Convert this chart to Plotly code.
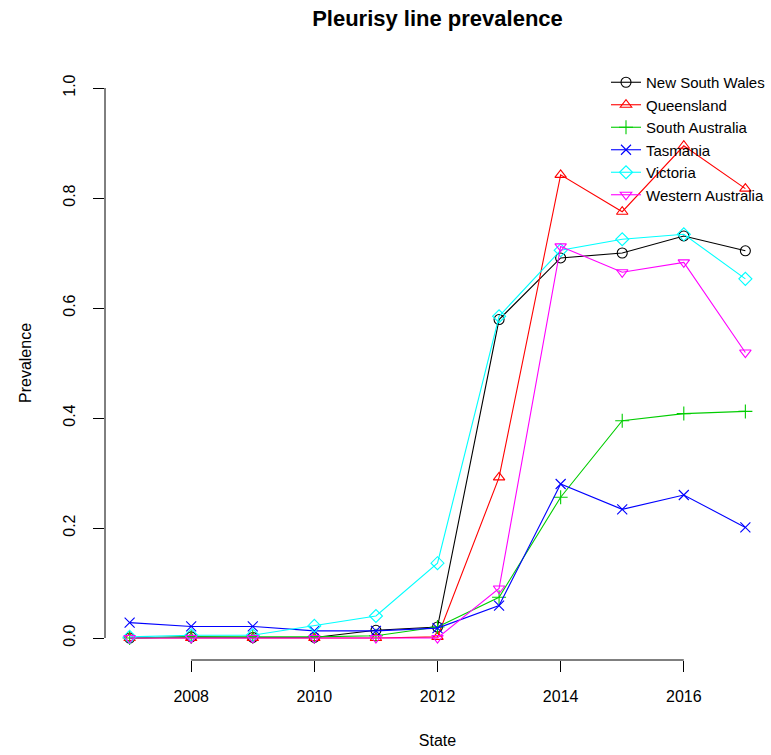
import plotly.graph_objects as go

# Survey years and prevalence of pleurisy lines by state
years = [2007, 2008, 2009, 2010, 2011, 2012, 2013, 2014, 2015, 2016, 2017]

nsw = [0.000, 0.002, 0.001, 0.001, 0.014, 0.020, 0.579, 0.691, 0.700, 0.731, 0.704]
qld = [0.000, 0.000, 0.000, 0.000, 0.000, 0.002, 0.292, 0.842, 0.775, 0.895, 0.817]
sa  = [0.000, 0.002, 0.002, 0.002, 0.004, 0.020, 0.074, 0.256, 0.395, 0.408, 0.412]
tas = [0.028, 0.021, 0.021, 0.013, 0.013, 0.018, 0.059, 0.280, 0.234, 0.260, 0.201]
vic = [0.002, 0.005, 0.005, 0.022, 0.040, 0.136, 0.585, 0.705, 0.725, 0.734, 0.653]
wa  = [0.000, 0.000, 0.000, 0.000, 0.000, 0.000, 0.090, 0.712, 0.665, 0.683, 0.519]

state_names = ["New South Wales", "Queensland", "South Australia",
               "Tasmania", "Victoria", "Western Australia"]
series = [nsw, qld, sa, tas, vic, wa]
colors = ["#000000", "#FF0000", "#00CD00", "#0000FF", "#00FFFF", "#FF00FF"]
symbols = ["circle-open", "triangle-up-open", "cross-thin-open",
           "x-thin-open", "diamond-open", "triangle-down-open"]

x_ticks = [2008, 2010, 2012, 2014, 2016]
y_ticks = [0.0, 0.2, 0.4, 0.6, 0.8, 1.0]
y_tick_text = ["0.0", "0.2", "0.4", "0.6", "0.8", "1.0"]

FONT = "Liberation Sans, Arial, Helvetica, sans-serif"

fig = go.Figure()
for name, vals, col, sym in zip(state_names, series, colors, symbols):
    fig.add_trace(go.Scatter(
        x=years, y=vals, name=name, mode="lines+markers",
        line=dict(color=col, width=1.1),
        marker=dict(symbol=sym, size=10, color=col,
                    line=dict(color=col, width=1.1)),
        cliponaxis=False,
    ))

# Base-graphics style axes: lines only from first to last tick
axis_shapes = [
    dict(type="line", xref="x", yref="paper",
         x0=x_ticks[0], x1=x_ticks[-1], y0=0, y1=0,
         line=dict(color="black", width=1)),
    dict(type="line", xref="paper", yref="y",
         x0=0, x1=0, y0=y_ticks[0], y1=y_ticks[-1],
         line=dict(color="black", width=1)),
]

fig.update_layout(
    width=771, height=755,
    margin=dict(l=105, r=1, t=66, b=95),
    paper_bgcolor="white", plot_bgcolor="white",
    font=dict(family=FONT, size=16, color="black"),
    title=dict(text="<b>Pleurisy line prevalence</b>",
               x=(105 + 770) / 2 / 771, xanchor="center",
               y=1 - 18 / 755, yanchor="middle",
               font=dict(size=22, family=FONT)),
    shapes=axis_shapes,
    showlegend=True,
    legend=dict(x=1.0, xanchor="right", y=1.0, yanchor="top",
                bgcolor="rgba(0,0,0,0)", font=dict(size=15, family=FONT),
                tracegroupgap=0, itemwidth=30),
    xaxis=dict(range=[2006.6, 2017.4], tickvals=x_ticks,
               ticks="outside", ticklen=11, tickwidth=1, tickcolor="black",
               showline=False, showgrid=False, zeroline=False,
               ticklabelstandoff=11,
               title=dict(text="State", standoff=30,
                          font=dict(size=16, family=FONT))),
    yaxis=dict(range=[-0.04, 1.04], tickvals=y_ticks, ticktext=y_tick_text,
               tickangle=-90,
               ticks="outside", ticklen=11, tickwidth=1, tickcolor="black",
               showline=False, showgrid=False, zeroline=False,
               ticklabelstandoff=12,
               title=dict(text="Prevalence", standoff=24,
                          font=dict(size=16, family=FONT))),
)

fig.write_html("out.html")
